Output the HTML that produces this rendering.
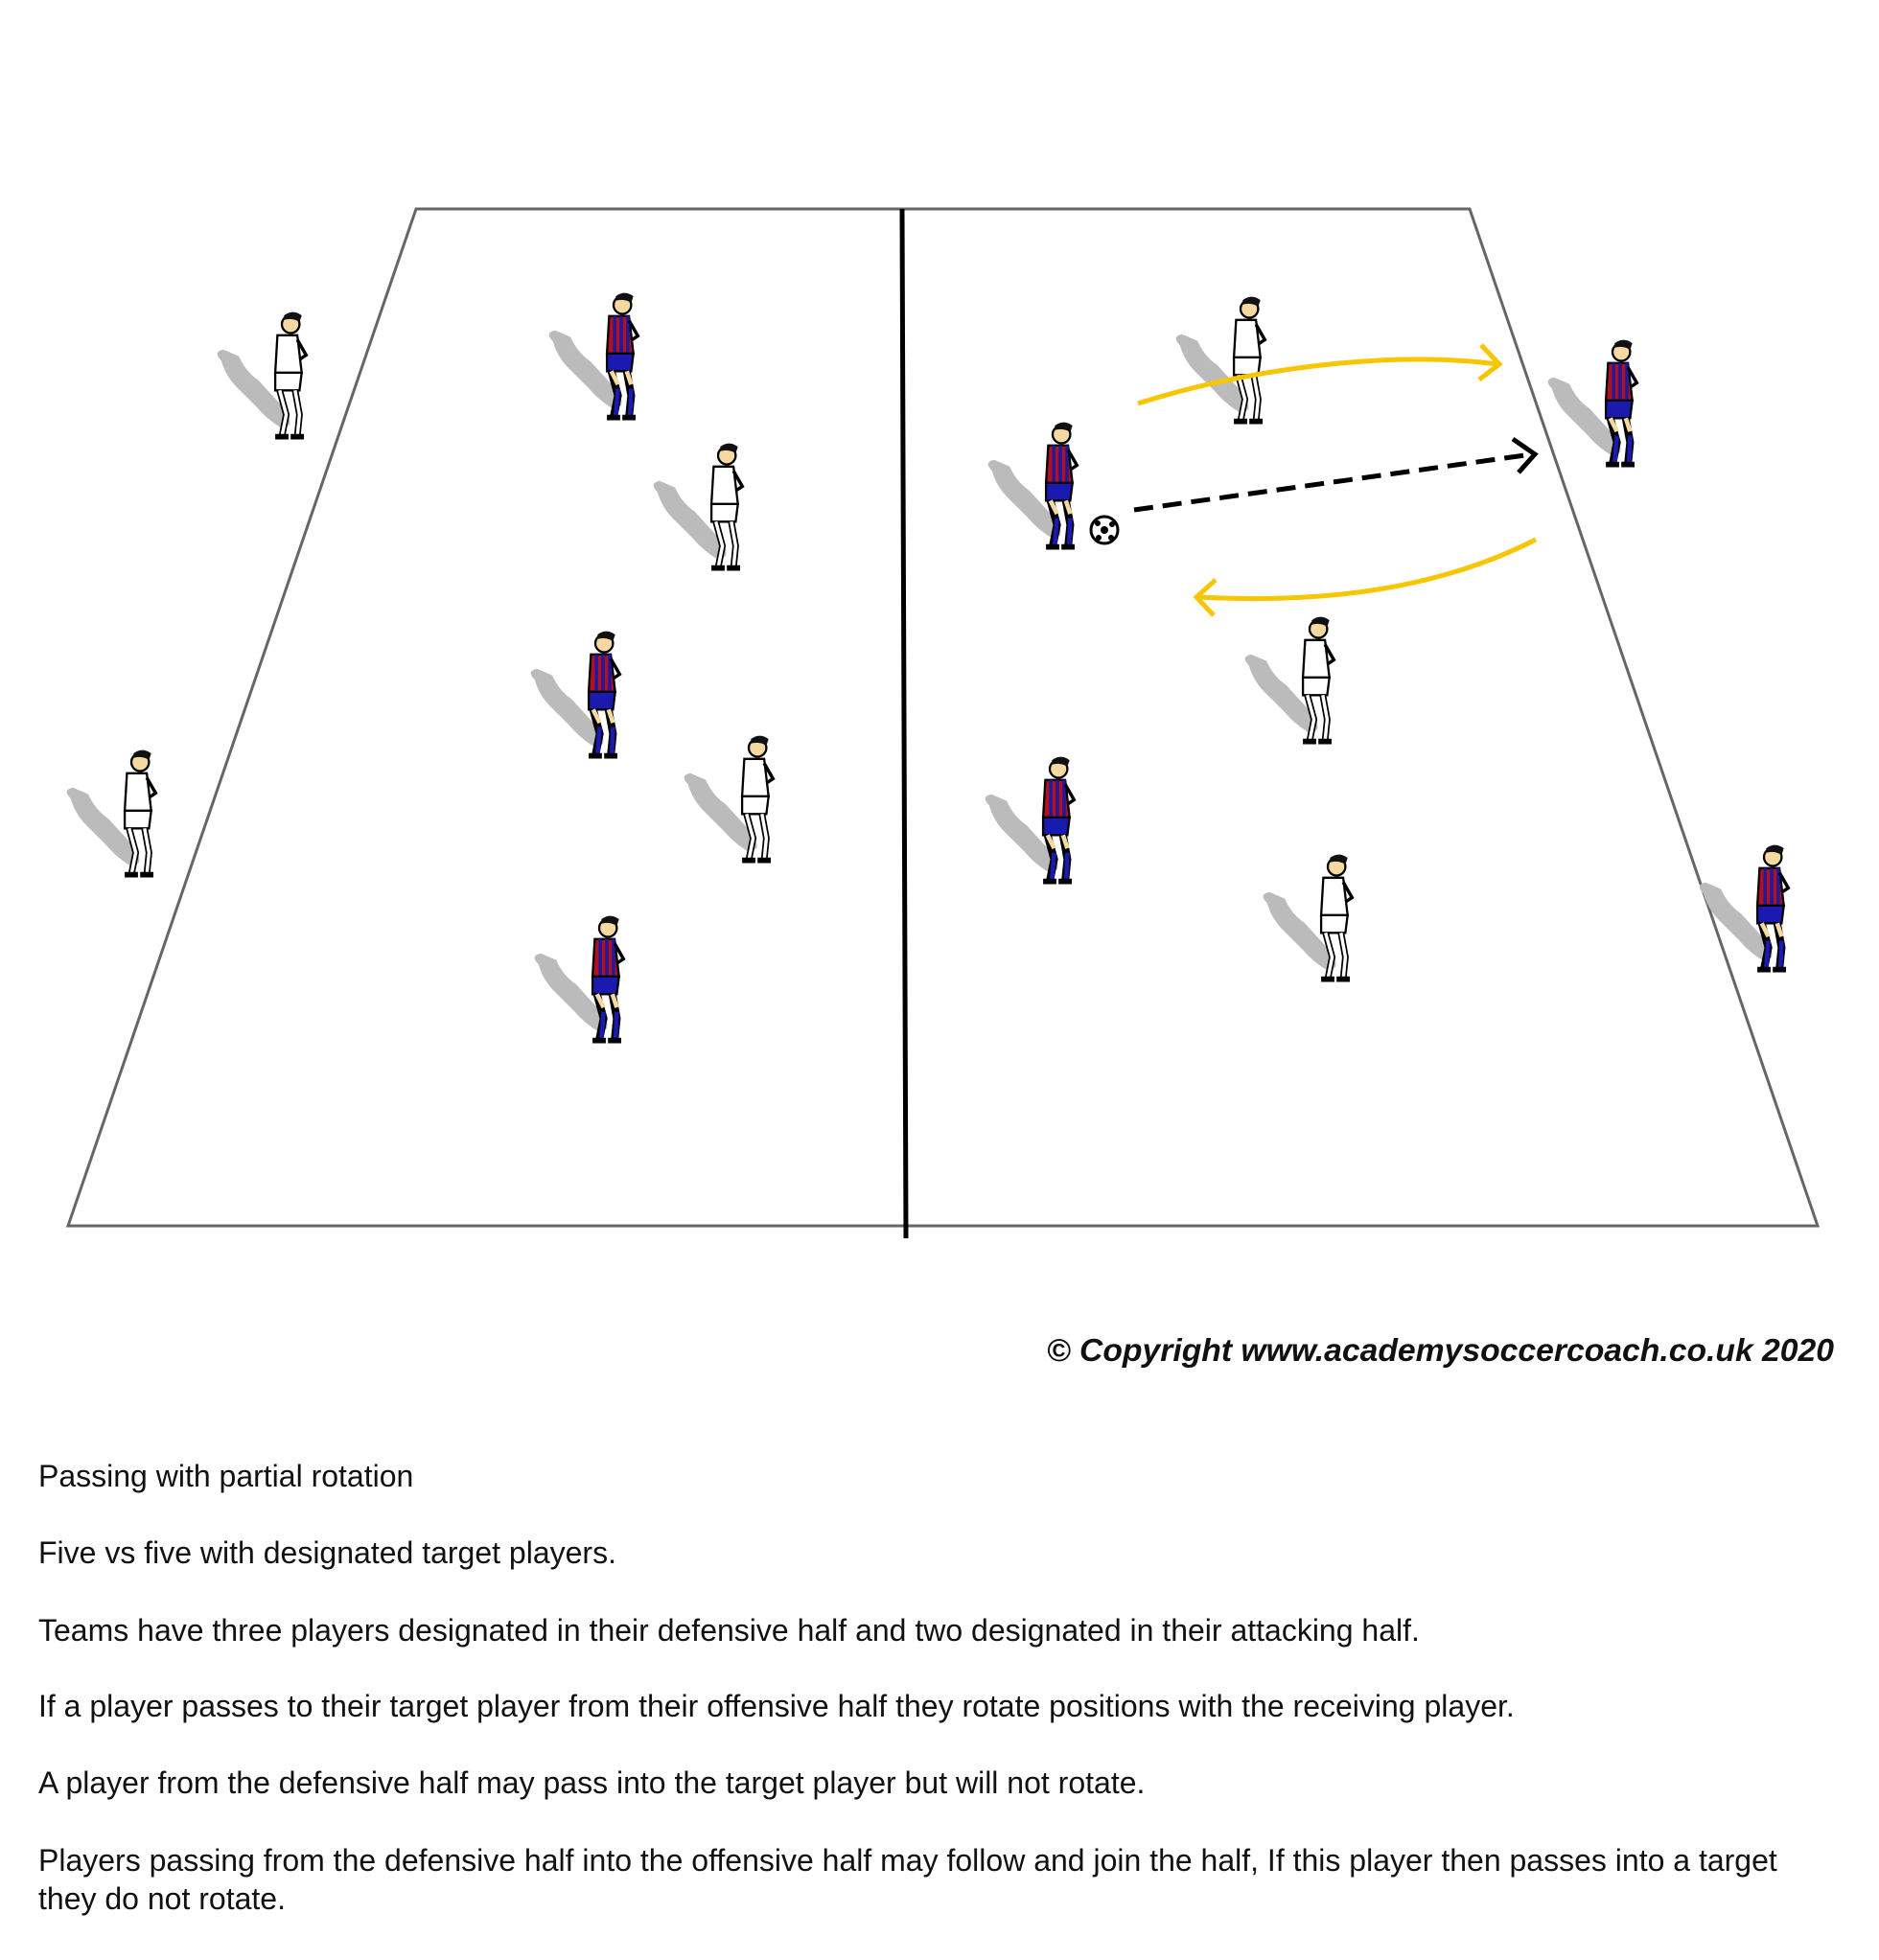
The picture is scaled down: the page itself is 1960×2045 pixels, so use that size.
<!DOCTYPE html>
<html><head><meta charset="utf-8"><style>
html,body{margin:0;padding:0;background:#fff}
body{width:1960px;height:2045px;position:relative;overflow:hidden;font-family:"Liberation Sans",Arial,sans-serif}
svg{position:absolute;left:0;top:0}
.copy{position:absolute;right:47px;top:1390px;font-size:33.7px;font-weight:bold;font-style:italic;color:#111;white-space:nowrap}
.t{position:absolute;left:40px;font-size:32px;color:#111;line-height:40px;width:1860px}
</style></head><body>
<svg width="1960" height="2045" viewBox="0 0 1960 2045">
<defs>
<g id="sh">
<path d="M-55,-25 q-8,-8 2,-10 l14,6 q6,14 18,22 l20,22 q10,10 8,18 l-6,4 q-14,-8 -24,-20 l-18,-18 q-10,-10 -14,-24z" fill="#bbb"/>
</g>
<g id="pw">
<use href="#sh"/>
<circle cx="8" cy="-58" r="8" fill="#f5d9a0" stroke="#000" stroke-width="2"/>
<path d="M2,-66 q8,-6 16,0 l-2,6 q-6,-4 -14,-2z" fill="#111"/>
<path d="M-4,-48 h18 l4,34 h-24z" fill="#fff" stroke="#000" stroke-width="2"/>
<path d="M-6,-14 h24 l-2,16 h-22z" fill="#fff" stroke="#000" stroke-width="2"/>
<path d="M-2,2 l6,22 l-4,20 M12,2 l4,22 l-2,20" stroke="#000" stroke-width="6" fill="none"/>
<path d="M-2,2 l6,22 l-4,20 M12,2 l4,22 l-2,20" stroke="#fff" stroke-width="3" fill="none"/>
<path d="M-6,44 h12 M8,44 h12" stroke="#000" stroke-width="5"/>
<path d="M14,-44 l8,14 l-6,4" stroke="#000" stroke-width="3" fill="none"/>
</g>
<g id="pb">
<use href="#sh"/>
<circle cx="8" cy="-58" r="8" fill="#f5d9a0" stroke="#000" stroke-width="2"/>
<path d="M2,-66 q8,-6 16,0 l-2,6 q-6,-4 -14,-2z" fill="#111"/>
<path d="M-4,-48 h18 l4,34 h-24z" fill="#b01020" stroke="#000" stroke-width="2"/>
<path d="M1,-48 v34 M7,-48 v34 M13,-48 v34" stroke="#1a1aa0" stroke-width="3"/>
<path d="M-6,-14 h24 l-2,16 h-22z" fill="#1a1ab0" stroke="#000" stroke-width="2"/>
<path d="M-2,2 l6,22 l-4,20 M12,2 l4,22 l-2,20" stroke="#000" stroke-width="7" fill="none"/>
<path d="M-2,2 l6,12 M12,2 l4,12" stroke="#f5d9a0" stroke-width="4" fill="none"/>
<path d="M4,18 l-2,24 M16,18 l-1,24" stroke="#1a1ab0" stroke-width="4" fill="none"/>
<path d="M-6,44 h12 M8,44 h12" stroke="#000" stroke-width="5"/>
<path d="M14,-44 l8,14 l-6,4" stroke="#000" stroke-width="3" fill="none"/>
</g>
</defs>
<polygon points="434,218 1533,218 1896,1279 71,1279" fill="#fff" stroke="#666" stroke-width="3"/>
<line x1="941" y1="218" x2="945" y2="1292" stroke="#000" stroke-width="5"/>
<g transform="translate(294,405) scale(1.15)"><use href="#pw"/></g>
<g transform="translate(749,542) scale(1.15)"><use href="#pw"/></g>
<g transform="translate(137,862) scale(1.15)"><use href="#pw"/></g>
<g transform="translate(781,847) scale(1.15)"><use href="#pw"/></g>
<g transform="translate(1294,389) scale(1.15)"><use href="#pw"/></g>
<g transform="translate(1366,723) scale(1.15)"><use href="#pw"/></g>
<g transform="translate(1385,971) scale(1.15)"><use href="#pw"/></g>
<g transform="translate(640,385) scale(1.15)"><use href="#pb"/></g>
<g transform="translate(621,738) scale(1.15)"><use href="#pb"/></g>
<g transform="translate(625,1035) scale(1.15)"><use href="#pb"/></g>
<g transform="translate(1098,520) scale(1.15)"><use href="#pb"/></g>
<g transform="translate(1682,434) scale(1.15)"><use href="#pb"/></g>
<g transform="translate(1095,869) scale(1.15)"><use href="#pb"/></g>
<g transform="translate(1840,961) scale(1.15)"><use href="#pb"/></g>
<path d="M1187,421 C1300,385 1450,365 1562,380" stroke="#f7c600" stroke-width="5" fill="none"/>
<path d="M1545,360 L1564,380 L1543,396" stroke="#f7c600" stroke-width="5" fill="none"/>
<path d="M1602,563 C1500,615 1380,630 1250,623" stroke="#f7c600" stroke-width="5" fill="none"/>
<path d="M1268,605 L1248,623 L1266,642" stroke="#f7c600" stroke-width="5" fill="none"/>
<path d="M1183,532 L1598,474" stroke="#000" stroke-width="5" stroke-dasharray="20,10" fill="none"/>
<path d="M1578,458 L1601,474 L1584,493" stroke="#000" stroke-width="5" fill="none"/>
<circle cx="1152" cy="553" r="14" fill="#fff" stroke="#000" stroke-width="3"/>
<circle cx="1152" cy="553" r="4" fill="#000"/>
<circle cx="1145" cy="546" r="3" fill="#000"/><circle cx="1160" cy="547" r="3" fill="#000"/>
<circle cx="1146" cy="561" r="3" fill="#000"/><circle cx="1159" cy="561" r="3" fill="#000"/>
</svg>
<div class="copy">© Copyright www.academysoccercoach.co.uk 2020</div>
<div class="t" style="top:1520px">Passing with partial rotation</div>
<div class="t" style="top:1600px">Five vs five with designated target players.</div>
<div class="t" style="top:1681px">Teams have three players designated in their defensive half and two designated in their attacking half.</div>
<div class="t" style="top:1760px">If a player passes to their target player from their offensive half they rotate positions with the receiving player.</div>
<div class="t" style="top:1840px">A player from the defensive half may pass into the target player but will not rotate.</div>
<div class="t" style="top:1921px">Players passing from the defensive half into the offensive half may follow and join the half, If this player then passes into a target they do not rotate.</div>
</body></html>
